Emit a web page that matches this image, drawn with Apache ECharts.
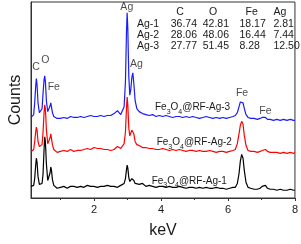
<!DOCTYPE html>
<html><head><meta charset="utf-8">
<script src="https://cdn.jsdelivr.net/npm/echarts@6/dist/echarts.min.js"></script>
<style>html,body{margin:0;padding:0;background:#fff}#c{width:301px;height:244px}</style>
</head><body><div id="c"></div>
<script>
// Energy axis (keV) shared by all spectra
var energy = [0.12,0.16,0.20,0.23,0.26,0.28,0.30,0.33,0.37,0.41,0.45,0.48,0.51,0.53,0.55,0.58,0.62,0.66,0.69,0.71,0.73,0.76,0.80,0.85,0.90,
  1.0,1.1,1.2,1.3,1.4,1.5,1.6,1.7,1.8,1.9,2.0,2.1,2.2,2.3,2.4,2.5,2.6,2.7,2.8,
  2.85,2.90,2.94,2.97,2.99,3.01,3.04,3.07,3.10,3.13,3.16,3.19,3.23,3.28,3.35,3.45,
  3.55,3.65,3.75,3.85,3.95,4.05,4.15,4.25,4.35,4.45,4.55,4.65,4.75,4.85,4.95,5.05,5.15,5.25,5.35,5.45,5.55,5.65,5.75,5.85,5.95,6.05,6.15,
  6.22,6.28,6.33,6.37,6.41,6.45,6.49,6.54,6.60,6.68,
  6.78,6.88,6.96,7.02,7.07,7.12,7.18,7.26,7.36,7.46,7.56,7.66,7.76,7.86,7.96,8.0];

// Counts (arbitrary units, spectra stacked with offset baselines)
var countsAg1 = [12,11,13,20,34,41,37,22,14,13,15,25,50,63,58,35,18,17,26,32,29,19,13,11,10,
  11,12,10,12,12,11,12,11,13,12,12,11,12,12,13,12,12,11,13,
  13,15,20,29,34,31,21,17,18,20,21,18,15,13,14,15,
  12,13,12,11,12,12,11,12,11,11,12,11,10,11,11,10,11,10,11,10,10,11,10,10,9,10,11,
  11,15,25,38,45,41,28,16,11,10,
  9,9,10,12,14,13,10,9,9,8,9,8,8,9,8,8];
var countsAg2 = [48,47,50,58,68,73,70,58,53,52,55,68,88,96,92,70,56,56,62,66,64,55,50,48,47,
  48,49,48,50,48,49,49,50,51,50,52,51,51,50,50,49,50,53,51,
  53,56,68,92,104,96,72,64,66,70,72,66,58,55,54,52,
  52,51,51,50,50,51,50,49,50,49,50,49,48,49,49,48,49,48,48,49,48,47,48,48,47,48,49,
  50,56,66,75,79,76,64,54,49,48,
  48,47,48,49,51,50,48,47,47,47,46,47,46,47,46,47];
var countsAg3 = [83,82,86,98,115,123,117,98,88,87,92,108,122,126,120,100,89,90,95,98,96,88,84,83,82,
  82,83,82,84,83,83,84,83,84,85,84,84,85,84,85,85,87,90,86,
  88,94,120,170,191,175,125,106,112,124,129,118,100,92,89,87,
  86,85,86,84,85,84,85,84,83,84,84,83,84,83,84,83,82,83,84,83,82,83,82,83,82,83,84,
  85,88,94,99,100,98,92,86,83,82,
  82,81,82,83,84,83,81,81,80,81,80,81,80,81,80,80];

var sampleNames = ['Fe{s|3}O{s|4}@RF-Ag-1','Fe{s|3}O{s|4}@RF-Ag-2','Fe{s|3}O{s|4}@RF-Ag-3'];
var sampleColors = ['#000000','#ff0000','#1a1aff'];

// Peak annotations: [keV, counts, element]
var peakLabels = [[0.27,135,'C'],[0.55,142,'O'],[0.80,114,'Fe'],[2.98,197,'Ag'],[3.27,138,'Ag'],[6.42,108,'Fe'],[7.12,90,'Fe']];

// Composition table
var tableCols = ['C','O','Fe','Ag'];
var tableRows = ['Ag-1','Ag-2','Ag-3'];
var tableValues = [[36.74,42.81,18.17,2.81],[28.06,48.06,16.44,7.44],[27.77,51.45,8.28,12.50]];

var xTicks = [2,4,6,8];
var xMinorTicks = [1,3,5,7];

var FONT = '"Liberation Sans", Arial, sans-serif';
var TXT = '#1a1a1a';

function pair(c){ return energy.map(function(e,i){ return [e,c[i]]; }); }
var allCounts = [countsAg1,countsAg2,countsAg3];

var series = allCounts.map(function(c,i){
  return {type:'line', data: pair(c), showSymbol:false, symbol:'none', smooth:false,
    lineStyle:{color:sampleColors[i], width:1.2}, animation:false, z:2+i};
});
series.push({type:'scatter', data: peakLabels, symbolSize:0, animation:false, z:10,
  label:{show:true, position:[0,0], align:'center', verticalAlign:'middle',
    formatter:function(p){return p.data[2];}, fontSize:10.5, fontFamily:FONT, color:TXT}});

var graphics = [];
var headX = [180,213,251.7,280];
var valX = [170.7,202.7,239.5,273.5];
var rowY = [24,35,46];
tableCols.forEach(function(t,i){
  graphics.push({type:'text', x:headX[i], y:12, style:{text:t, font:'10.5px '+FONT, fill:TXT, align:'center', verticalAlign:'middle'}});
});
tableRows.forEach(function(r,j){
  graphics.push({type:'text', x:137, y:rowY[j], style:{text:r, font:'10.5px '+FONT, fill:TXT, align:'left', verticalAlign:'middle'}});
  tableValues[j].forEach(function(v,i){
    graphics.push({type:'text', x:valX[i], y:rowY[j], style:{text:v.toFixed(2), font:'10.5px '+FONT, fill:TXT, align:'left', verticalAlign:'middle'}});
  });
});
var nameX = [151.7,156.7,155];
var nameY = [181.3,142.7,107.7];
sampleNames.forEach(function(n,i){
  graphics.push({type:'text', x:nameX[i], y:nameY[i], style:{text:n, fill:TXT, align:'left', verticalAlign:'middle',
    fontSize:10, fontFamily:FONT,
    rich:{s:{fontSize:7, fontFamily:FONT, fill:TXT, verticalAlign:'bottom', lineHeight:15}}}});
});

var chart = echarts.init(document.getElementById('c'), null, {renderer:'canvas'});
chart.setOption({
  animation:false,
  backgroundColor:'#fff',
  grid:{left:25, right:4, top:2, bottom:40, show:true, borderColor:'#333', borderWidth:1, backgroundColor:'transparent'},
  xAxis:[{
    type:'value', min:0.12, max:8,
    name:'keV', nameLocation:'middle', nameGap:25,
    nameTextStyle:{fontSize:16, fontFamily:FONT, color:TXT},
    axisLine:{show:true, lineStyle:{color:'#333', width:1}},
    axisTick:{show:true, inside:false, length:3, customValues:xTicks, lineStyle:{color:'#333'}},
    axisLabel:{show:true, customValues:xTicks, fontSize:11, fontFamily:FONT, color:TXT, margin:6},
    splitLine:{show:false}
  },{
    type:'value', min:0.12, max:8, position:'bottom',
    axisLine:{show:false},
    axisTick:{show:true, inside:false, length:2, customValues:xMinorTicks, lineStyle:{color:'#333'}},
    axisLabel:{show:false},
    splitLine:{show:false}
  }],
  yAxis:{
    type:'value', min:0, max:202,
    name:'Counts', nameLocation:'middle', nameGap:7, nameRotate:90,
    nameTextStyle:{fontSize:16, fontFamily:FONT, color:TXT},
    axisLine:{show:true, lineStyle:{color:'#333'}},
    axisTick:{show:false}, axisLabel:{show:false}, splitLine:{show:false}
  },
  series: series,
  graphic: graphics
});
</script></body></html>
